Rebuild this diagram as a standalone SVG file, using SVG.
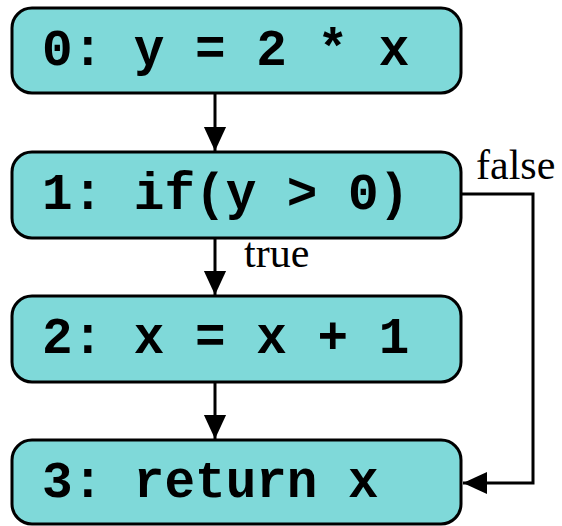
<svg xmlns="http://www.w3.org/2000/svg" width="562" height="526" viewBox="0 0 562 526">
<style>
.box{fill:#7fd9d9;stroke:#000;stroke-width:3}
.code{font-family:"Liberation Mono","Courier New",monospace;font-weight:bold;font-size:51px;fill:#000}
.lbl{font-family:"Liberation Serif","Times New Roman",serif;font-size:42px;fill:#000}
.edge{fill:none;stroke:#000;stroke-width:3}
</style>
<defs>
<marker id="ah" markerWidth="24" markerHeight="26" refX="26" refY="12" orient="auto" markerUnits="userSpaceOnUse" viewBox="0 0 26 24">
<path d="M0,0 L26,12 L0,24 Z" fill="#000"/>
</marker>
</defs>
<g id="connectors">
<path class="edge" d="M215,93 V151" marker-end="url(#ah)"/>
<path class="edge" d="M215,238 V295" marker-end="url(#ah)"/>
<path class="edge" d="M215,382 V439" marker-end="url(#ah)"/>
<path class="edge" d="M461,194 H533 V483 H463" marker-end="url(#ah)"/>
<text class="lbl" x="476" y="179">false</text>
<text class="lbl" x="244" y="267">true</text>
</g>
<g id="n0">
<rect class="box" x="12" y="8" width="449" height="85" rx="20"/>
<text class="code" x="42" y="65">0: y = 2 * x</text>
</g>
<g id="n1">
<rect class="box" x="12" y="152" width="449" height="86" rx="20"/>
<text class="code" x="42" y="209">1: if(y &gt; 0)</text>
</g>
<g id="n2">
<rect class="box" x="12" y="296" width="449" height="86" rx="20"/>
<text class="code" x="42" y="353">2: x = x + 1</text>
</g>
<g id="n3">
<rect class="box" x="12" y="440" width="449" height="84" rx="20"/>
<text class="code" x="42" y="497">3: return x</text>
</g>
</svg>
